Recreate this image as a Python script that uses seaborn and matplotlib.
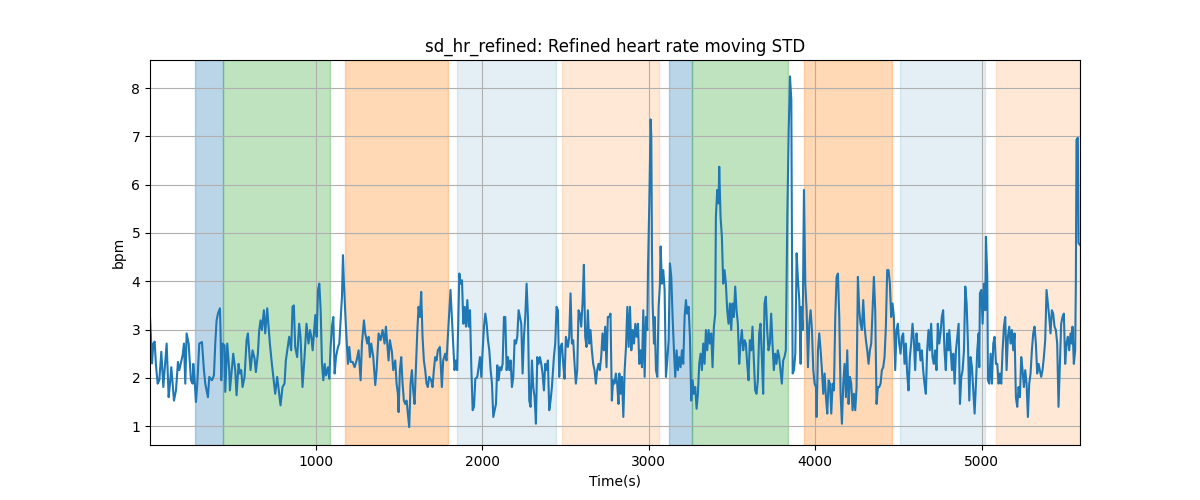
import matplotlib
matplotlib.use("Agg")
import matplotlib.pyplot as plt
import seaborn as sns
import pandas as pd

# ---- data ----
time_s = [
    4, 12, 16, 24, 32, 40, 50, 60, 72, 84, 104, 116, 124, 132, 148, 160, 172, 180, 200, 208,
    216, 224, 236, 250, 260, 264, 272, 280, 288, 300, 316, 328, 336, 352, 360, 376, 388, 396, 404, 412,
    424, 428, 432, 440, 452, 456, 468, 480, 484, 504, 516, 524, 536, 544, 552, 560, 572, 584, 592, 608,
    620, 632, 640, 652, 660, 668, 676, 688, 696, 708, 724, 736, 756, 768, 788, 800, 812, 820, 840, 852,
    860, 868, 876, 888, 900, 908, 916, 920, 932, 944, 956,
    965, 973, 981, 989, 997, 1005, 1013, 1021, 1029, 1037, 1045, 1053, 1061, 1073, 1081, 1089, 1097, 1105, 1113, 1121,
    1133, 1141, 1149, 1157, 1163, 1169, 1177, 1185, 1193, 1201, 1209, 1221, 1233, 1245, 1257, 1269, 1277, 1289, 1297, 1309,
    1317, 1325, 1333, 1345, 1357, 1365, 1377, 1389, 1401, 1413, 1421, 1429, 1437, 1445, 1457, 1465, 1477, 1485, 1493, 1497,
    1505, 1513, 1521, 1529, 1537, 1545, 1553, 1561, 1569, 1577, 1585, 1593, 1601, 1609, 1617, 1625, 1633, 1641, 1649, 1657,
    1665, 1673, 1681, 1693, 1701, 1709, 1717, 1725, 1733, 1745, 1757, 1765, 1777, 1785, 1793, 1801, 1809, 1817, 1825, 1833,
    1841, 1849,
    1862, 1870, 1878, 1886, 1894, 1902, 1910, 1918, 1926, 1934, 1942, 1950, 1958, 1970, 1978, 1986, 1994, 2002, 2010, 2018,
    2026, 2034, 2042, 2050, 2058, 2066, 2074, 2082, 2090, 2098, 2106, 2114, 2122, 2130, 2138, 2146, 2154, 2162, 2170, 2178,
    2186, 2194, 2202, 2210, 2218, 2226, 2234, 2242, 2250, 2258, 2266, 2274, 2282, 2290, 2298, 2306, 2314, 2322, 2330, 2338,
    2346, 2354, 2362, 2370, 2378, 2386, 2394, 2402, 2410, 2418, 2430, 2438, 2446, 2454, 2462, 2470, 2478, 2486, 2494, 2502,
    2514, 2522, 2530, 2538, 2546, 2554, 2562, 2570, 2578, 2586, 2594, 2602, 2610, 2618, 2626, 2634, 2642, 2650, 2658, 2666,
    2674, 2682, 2690, 2698, 2706, 2714, 2722, 2730, 2738, 2746, 2754, 2762, 2770, 2778, 2786, 2794, 2802, 2810, 2818,
    2823, 2831, 2839, 2847, 2855, 2863, 2871, 2879, 2887, 2895, 2903, 2911, 2919, 2927, 2935, 2943, 2951, 2959, 2967, 2975,
    2983, 2991, 2995, 3003, 3011, 3015, 3019, 3023, 3031, 3035, 3043, 3051, 3059, 3067, 3071, 3079, 3087, 3095, 3103, 3111,
    3119, 3127, 3135, 3143, 3151, 3159, 3167, 3175, 3183, 3191, 3199, 3207, 3215, 3223, 3231, 3239, 3247, 3255, 3263, 3271,
    3279, 3287, 3295, 3303, 3311, 3319, 3327, 3335, 3343, 3351, 3359, 3367, 3375, 3383, 3391, 3399, 3403, 3411, 3419, 3423,
    3431, 3439, 3447, 3455, 3463, 3471, 3479, 3487, 3495, 3503, 3511, 3519, 3527, 3535, 3543, 3551, 3559, 3567, 3575, 3583,
    3591, 3599, 3607, 3615, 3623, 3631, 3639, 3647, 3655, 3663, 3671, 3679, 3687, 3695, 3703, 3711, 3719, 3727, 3735, 3743,
    3751, 3759, 3767, 3775, 3783, 3791, 3799, 3807, 3815, 3823,
    3832, 3840, 3848, 3856, 3860, 3864, 3872, 3880, 3888, 3896, 3904, 3912, 3916, 3924, 3932, 3940, 3948, 3956, 3964, 3972,
    3980, 3988, 3996, 4004, 4008, 4016, 4024, 4032, 4040, 4048, 4056, 4064, 4072, 4080, 4088, 4096, 4104, 4112, 4120, 4128,
    4136, 4144, 4152, 4160, 4168, 4176, 4184, 4192, 4200, 4208, 4216, 4224, 4232, 4240, 4248, 4256, 4264, 4272, 4280, 4288,
    4296, 4304, 4312, 4320, 4328, 4336, 4344, 4352, 4360, 4368, 4376, 4384, 4392, 4400, 4408, 4416, 4424, 4432, 4440, 4448,
    4456, 4464, 4472, 4480, 4488, 4496, 4504, 4512, 4520, 4528, 4536, 4544, 4552, 4560, 4568, 4576, 4584, 4592, 4600, 4608,
    4616, 4624, 4632, 4640, 4648, 4656, 4664, 4672, 4680, 4688, 4696, 4704, 4712, 4720, 4728, 4736, 4744, 4752, 4760, 4768,
    4776, 4784, 4792, 4800,
    4805, 4813, 4821, 4829, 4837, 4845, 4853, 4861, 4869, 4877, 4885, 4893, 4901, 4909, 4917, 4925, 4933, 4941, 4949, 4957,
    4965, 4973, 4981, 4985, 4989, 4997, 5005, 5013, 5021, 5025, 5033, 5037, 5045, 5053, 5061, 5069, 5077, 5085, 5093, 5101,
    5109, 5117, 5125, 5133, 5141, 5149, 5157, 5165, 5173, 5181, 5189, 5197, 5205, 5213, 5221, 5229, 5237, 5245, 5253, 5261,
    5269, 5277, 5285, 5293, 5301, 5309, 5317, 5325, 5333, 5341, 5349, 5357, 5365, 5373, 5381, 5389, 5397, 5405, 5413, 5421,
    5429, 5437, 5445, 5453, 5461, 5469, 5477, 5485, 5493, 5501, 5509, 5517, 5525, 5533, 5541, 5545, 5553, 5561, 5565, 5569,
    5577, 5581, 5590,
]

sd_hr = [
    3.26, 2.67, 2.30, 2.71, 2.75, 2.25, 1.88, 1.95, 2.54, 1.81, 2.71, 1.60, 1.88, 2.22, 1.53, 1.74, 2.33, 2.16, 2.47, 2.71,
    1.88, 2.92, 2.71, 1.95, 1.88, 2.29, 1.95, 1.50, 1.88, 2.71, 2.74, 2.16, 1.88, 1.60, 2.02, 1.95, 2.05, 2.71, 3.19, 3.33,
    3.44, 2.92, 1.95, 2.71, 2.67, 1.71, 2.71, 2.16, 1.74, 2.50, 2.16, 1.64, 2.29, 2.09, 2.16, 1.81, 2.02, 2.78, 2.92, 2.16,
    2.57, 2.40, 2.12, 2.50, 2.99, 3.19, 2.99, 3.40, 2.92, 3.44, 2.71, 2.29, 1.67, 2.02, 1.43, 1.81, 1.88, 2.36, 2.85, 2.57,
    3.47, 3.50, 2.64, 2.43, 3.12, 2.85, 2.16, 1.81, 2.43, 3.12, 2.71,
    2.99, 2.85, 2.57, 2.95, 3.30, 2.85, 3.82, 3.95, 3.40, 2.29, 1.95, 2.29, 2.05, 2.22, 1.98, 2.64, 3.06, 3.26, 2.09, 2.43,
    2.64, 2.71, 3.19, 3.68, 4.54, 3.95, 3.33, 2.78, 2.29, 2.64, 2.33, 2.33, 2.22, 2.36, 2.57, 1.95, 2.71, 3.19, 2.92, 2.71,
    2.85, 2.43, 2.71, 2.43, 1.85, 2.16, 2.92, 2.78, 2.99, 2.71, 3.06, 2.71, 2.36, 2.78, 2.54, 2.16, 2.36, 1.88, 1.67, 1.29,
    2.16, 2.43, 1.88, 1.53, 1.46, 1.53, 1.26, 0.98, 1.88, 2.16, 1.74, 1.46, 2.22, 2.92, 3.47, 3.26, 3.78, 2.85, 2.36, 2.16,
    1.88, 1.81, 2.02, 1.95, 1.81, 2.16, 2.43, 2.36, 2.57, 2.64, 1.81, 2.36, 2.50, 2.36, 2.85, 3.33, 3.82, 3.26, 2.71, 2.16,
    2.36, 2.16,
    4.16, 3.95, 4.02, 3.12, 3.47, 3.06, 3.61, 3.06, 3.40, 2.22, 1.33, 1.40, 1.98, 2.02, 2.22, 2.43, 2.02, 2.57, 3.06, 3.33,
    3.12, 2.78, 2.57, 2.16, 1.88, 1.19, 1.33, 1.46, 2.26, 1.95, 2.22, 2.16, 2.29, 3.26, 3.26, 2.16, 2.43, 2.16, 2.36, 1.81,
    2.02, 2.78, 2.71, 2.85, 3.40, 3.26, 3.12, 2.09, 2.85, 3.26, 3.95, 3.26, 1.53, 1.40, 2.36, 1.81, 1.60, 1.05, 2.43, 2.29,
    2.43, 2.29, 2.09, 1.74, 2.29, 2.16, 2.36, 1.33, 1.53, 1.81, 2.43, 2.71, 3.47, 3.40, 2.02, 2.64, 2.71, 2.29, 1.98, 2.85,
    2.64, 2.85, 3.75, 2.71, 2.78, 2.29, 1.88, 2.16, 3.40, 3.33, 3.06, 3.54, 4.34, 2.85, 2.64, 3.40, 2.71, 2.99, 2.57, 2.29,
    2.16, 1.88, 2.16, 2.29, 2.16, 2.43, 2.92, 2.57, 3.06, 2.22, 3.26, 3.26, 3.33, 1.53, 1.95, 1.88, 2.09, 1.88, 1.46,
    2.09, 1.67, 2.02, 1.19, 2.16, 2.64, 3.47, 2.64, 3.47, 2.57, 2.99, 2.71, 3.12, 2.85, 3.12, 2.29, 2.57, 2.22, 3.40, 2.02,
    3.26, 2.99, 4.23, 5.61, 7.35, 7.00, 4.65, 3.54, 2.71, 3.26, 2.16, 2.02, 3.47, 3.95, 4.72, 3.95, 4.23, 3.82, 2.02, 2.36,
    2.78, 4.37, 4.09, 3.26, 2.57, 2.02, 2.57, 2.16, 2.43, 2.22, 2.57, 2.29, 3.26, 3.61, 3.33, 3.47, 2.85, 1.53, 1.95, 1.67,
    1.81, 1.36, 1.67, 2.29, 2.50, 2.16, 2.71, 2.29, 2.99, 2.57, 2.99, 2.71, 2.92, 2.22, 3.06, 3.33, 5.33, 5.89, 5.61, 6.37,
    5.33, 4.92, 3.95, 4.23, 3.95, 3.40, 3.12, 3.54, 2.99, 3.54, 3.26, 3.89, 3.40, 3.12, 2.29, 2.71, 2.99, 2.57, 2.78, 2.71,
    2.29, 1.95, 2.78, 2.57, 3.06, 2.36, 1.74, 1.67, 1.95, 2.92, 3.12, 2.43, 1.67, 3.54, 3.68, 2.99, 2.57, 2.71, 3.33, 2.71,
    2.16, 2.50, 2.29, 2.57, 2.43, 2.16, 1.88, 2.36, 2.43, 2.57,
    5.33, 7.07, 8.24, 7.76, 4.65, 2.09, 2.16, 2.50, 4.58, 4.02, 3.61, 2.29, 3.47, 2.99, 5.89, 3.95, 3.40, 2.22, 3.12, 3.40,
    2.99, 2.16, 1.88, 1.81, 1.19, 2.57, 2.92, 2.57, 2.16, 1.67, 2.09, 1.60, 1.26, 1.95, 1.88, 1.26, 1.88, 1.74, 3.26, 4.09,
    4.16, 3.26, 1.67, 1.05, 1.88, 2.29, 1.60, 2.57, 1.46, 2.02, 1.88, 1.33, 1.67, 1.33, 1.81, 4.09, 3.40, 3.12, 2.99, 3.61,
    3.06, 2.78, 2.57, 2.29, 2.57, 2.71, 3.40, 4.09, 3.40, 1.46, 1.81, 1.81, 1.88, 2.16, 2.22, 2.43, 3.06, 4.23, 4.23, 3.95,
    3.26, 3.54, 3.26, 2.16, 2.99, 3.12, 2.71, 2.50, 2.85, 2.92, 2.29, 2.71, 2.09, 1.74, 2.43, 2.71, 3.12, 2.78, 2.16, 2.92,
    2.57, 2.71, 2.36, 2.57, 2.16, 1.88, 1.67, 2.57, 2.99, 2.57, 3.12, 2.43, 2.29, 2.57, 2.16, 3.12, 2.71, 2.92, 3.26, 3.40,
    2.57, 2.16, 2.92, 2.57,
    2.99, 2.57, 2.16, 2.50, 1.88, 2.57, 2.85, 3.12, 1.46, 2.02, 2.16, 2.57, 3.89, 3.54, 2.71, 1.53, 2.43, 2.22, 1.74, 1.26,
    1.88, 2.57, 2.92, 2.22, 3.75, 3.82, 3.12, 3.95, 3.40, 4.92, 4.09, 1.95, 1.88, 2.50, 1.88, 2.71, 2.85, 2.29, 2.29, 1.88,
    2.09, 1.88, 2.57, 3.06, 3.26, 2.16, 2.85, 3.06, 2.71, 2.99, 2.57, 2.92, 1.60, 1.40, 1.81, 1.60, 2.43, 2.16, 1.81, 2.16,
    1.88, 1.19, 1.88, 2.09, 2.57, 2.92, 3.06, 2.71, 2.09, 2.29, 2.16, 2.02, 2.16, 2.43, 2.78, 3.82, 3.54, 3.26, 2.92, 3.40,
    3.33, 3.06, 2.99, 2.71, 1.40, 2.29, 3.12, 3.26, 3.33, 2.29, 2.71, 2.85, 2.57, 2.92, 2.71, 3.06, 2.29, 2.57, 3.95, 6.93,
    6.97, 4.79, 4.75,
]

# activity phases (start, end in seconds) and their kind
phase_start = [276, 440, 1177, 1850, 2480, 3122, 3261, 3934, 4510, 5086]
phase_end = [440, 1085, 1794, 2444, 3062, 3261, 3836, 4460, 5021, 5590]
phase_kind = ["A", "B", "C", "D", "E", "A", "B", "C", "D", "E"]

# ---- styling ----
phase_style = {
    "A": ("tab:blue", 0.3),
    "B": ("tab:green", 0.3),
    "C": ("tab:orange", 0.3),
    "D": ("tab:blue", 0.12),
    "E": ("tab:orange", 0.17),
}

df = pd.DataFrame({"time": time_s, "sd": sd_hr})

fig, ax = plt.subplots(figsize=(12, 5), dpi=100)
for s, e, k in zip(phase_start, phase_end, phase_kind):
    c, a = phase_style[k]
    ax.axvspan(s, e, color=c, alpha=a)

sns.lineplot(data=df, x="time", y="sd", ax=ax, color="tab:blue", linewidth=1.5, sort=False)

ax.set_xlim(min(time_s), max(time_s))
ax.set_ylim(0.61, 8.58)
ax.grid(True)
ax.set_title("sd_hr_refined: Refined heart rate moving STD")
ax.set_xlabel("Time(s)")
ax.set_ylabel("bpm")

fig.savefig("out.png", dpi=100)
